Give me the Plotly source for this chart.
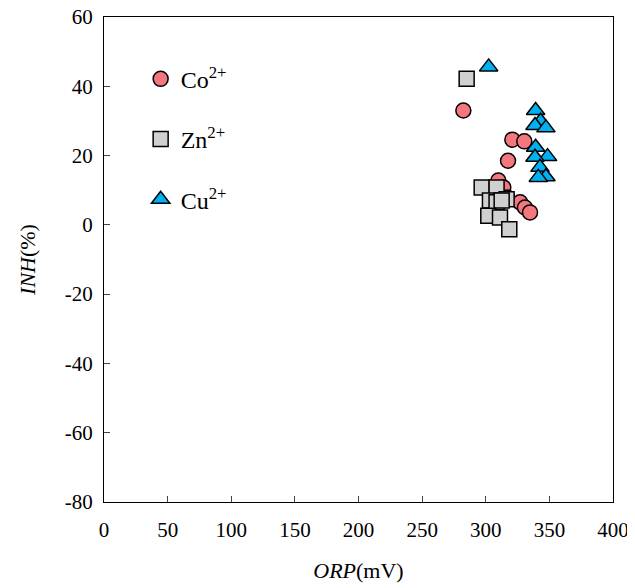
import plotly.graph_objects as go

co_x = [282.4, 320.9, 330.3, 317.5, 309.9, 313.8, 317.0, 327.0, 330.8, 334.8]
co_y = [33.0, 24.6, 24.1, 18.5, 12.8, 10.8, 7.9, 6.5, 5.0, 3.6]

zn_x = [285.0, 296.8, 308.5, 303.3, 308.5, 316.4, 312.5, 302.0, 311.2, 318.5]
zn_y = [42.2, 10.8, 10.8, 7.0, 6.5, 7.4, 7.0, 2.6, 2.1, -1.3]

cu_x = [302.3, 339.2, 343.1, 338.7, 347.3, 339.2, 348.6, 338.7, 342.6, 347.3, 341.3]
cu_y = [45.6, 33.0, 29.9, 28.7, 28.0, 22.4, 19.7, 19.5, 16.6, 13.9, 13.7]

x_ticks = [0, 50, 100, 150, 200, 250, 300, 350, 400]
y_ticks = [-80, -60, -40, -20, 0, 20, 40, 60]
y_tick_text = ["-80", "-60", "-40", "-20", "0", "20", "40", "60"]

FONT = "Liberation Serif, Times New Roman, serif"
line = dict(color="black", width=1.5)

fig = go.Figure()
fig.add_trace(go.Scatter(x=co_x, y=co_y, mode="markers", name="Co<sup>2+</sup>",
                         legendgroup="a",
                         marker=dict(symbol="circle", size=15, color="#F4777F", line=line)))
fig.add_trace(go.Scatter(x=zn_x, y=zn_y, mode="markers", name="Zn<sup>2+</sup>",
                         legendgroup="b",
                         marker=dict(symbol="square", size=15, color="#D0D0D0", line=line)))
fig.add_trace(go.Scatter(x=cu_x, y=cu_y, mode="markers", name="Cu<sup>2+</sup>",
                         legendgroup="c",
                         marker=dict(symbol="triangle-up", size=16, color="#00B0F0", line=line)))

fig.update_layout(
    width=635, height=588,
    margin=dict(l=96, r=30, t=9, b=94, autoexpand=False),
    paper_bgcolor="white", plot_bgcolor="white",
    font=dict(family=FONT, size=21, color="black"),
    legend=dict(x=0.072, y=0.918, xanchor="left", yanchor="top",
                traceorder="grouped", tracegroupgap=26,
                font=dict(family=FONT, size=24, color="black"),
                bgcolor="rgba(0,0,0,0)", itemwidth=30),
    xaxis=dict(range=[0, 400], tickvals=x_ticks, ticks="inside", ticklen=6,
               showline=True, linecolor="black", linewidth=1.2, mirror=True,
               showgrid=False, zeroline=False, automargin=False,
               ticklabelstandoff=9, ticklabeloverflow="allow",
               title=dict(text="<i>ORP</i>(mV)", font=dict(size=22), standoff=21)),
    yaxis=dict(range=[-80, 60], tickvals=y_ticks, ticktext=y_tick_text,
               ticks="inside", ticklen=6,
               showline=True, linecolor="black", linewidth=1.2, mirror=True,
               showgrid=False, zeroline=False, automargin=False,
               ticklabelstandoff=6, ticklabeloverflow="allow",
               title=dict(text="<i>INH</i>(%)", font=dict(size=22), standoff=23)),
)

fig.write_html("out.html")
